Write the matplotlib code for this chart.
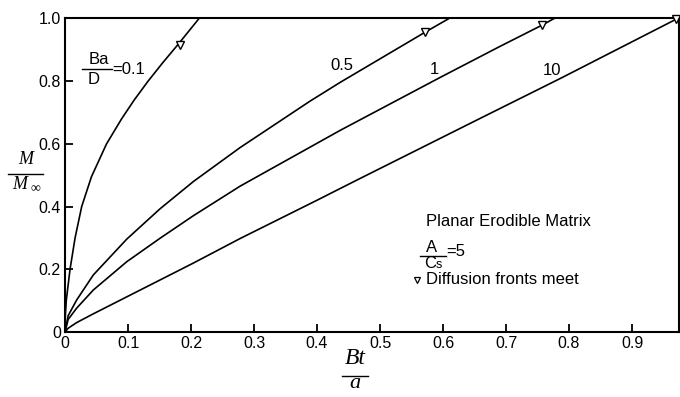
import matplotlib
matplotlib.use("Agg")
import matplotlib.pyplot as plt
from matplotlib.lines import Line2D

plt.rcParams['font.family'] = ['Liberation Sans', 'DejaVu Sans']

# ---- data ----
ratios = ["0.1", "0.5", "1", "10"]
x_01 = [0, 0.0005, 0.002, 0.008, 0.016, 0.0265, 0.042, 0.066, 0.09, 0.11, 0.132, 0.155, 0.18, 0.213]
y_01 = [0, 0.05, 0.10, 0.20, 0.30, 0.40, 0.495, 0.60, 0.68, 0.74, 0.80, 0.858, 0.918, 1.0]
x_05 = [0, 0.005, 0.0185, 0.045, 0.098, 0.151, 0.204, 0.278, 0.389, 0.437, 0.571, 0.61]
y_05 = [0, 0.052, 0.102, 0.182, 0.296, 0.393, 0.48, 0.588, 0.736, 0.796, 0.955, 1.0]
x_1 = [0, 0.005, 0.0185, 0.045, 0.098, 0.151, 0.204, 0.278, 0.437, 0.595, 0.69, 0.757, 0.777]
y_1 = [0, 0.04, 0.076, 0.134, 0.224, 0.299, 0.371, 0.465, 0.643, 0.811, 0.91, 0.978, 1.0]
x_10 = [0, 0.005, 0.0185, 0.045, 0.098, 0.151, 0.204, 0.278, 0.40, 0.463, 0.659, 0.786, 0.97]
y_10 = [0, 0.012, 0.03, 0.058, 0.112, 0.166, 0.22, 0.298, 0.42, 0.484, 0.681, 0.808, 0.997]
fronts_x = [0.182, 0.571, 0.757, 0.97]
fronts_y = [0.915, 0.955, 0.978, 0.997]
xticks = [0, 0.1, 0.2, 0.3, 0.4, 0.5, 0.6, 0.7, 0.8, 0.9]
xticklabels = ["0", "0.1", "0.2", "0.3", "0.4", "0.5", "0.6", "0.7", "0.8", "0.9"]
yticks = [0, 0.2, 0.4, 0.6, 0.8, 1.0]
yticklabels = ["0", "0.2", "0.4", "0.6", "0.8", "1.0"]

W, H = 680, 397
fig = plt.figure(figsize=(W / 100, H / 100), dpi=100)

def fx(px):
    return px / W

def fy(py):
    return 1 - py / H

ax = fig.add_axes([fx(65), fy(332), fx(679) - fx(65), fy(18.3) - fy(332)])

for xs, ys in [(x_01, y_01), (x_05, y_05), (x_1, y_1), (x_10, y_10)]:
    ax.plot(xs, ys, color='black', lw=1.2, solid_joinstyle='round')
ax.plot(fronts_x, fronts_y, linestyle='none', marker='v', ms=5.5,
        mfc='white', mec='black', mew=1.0, clip_on=False, zorder=5)

ax.set_xlim(0, 0.9746)
ax.set_ylim(0, 1.0)
ax.set_xticks(xticks)
ax.set_xticklabels(xticklabels)
ax.set_yticks(yticks)
ax.set_yticklabels(yticklabels)
ax.tick_params(direction='in', length=6, width=1.3, labelsize=11.5, pad=3)
for s in ax.spines.values():
    s.set_linewidth(1.5)

# ---- curve labels ----
fs = 12
def txt(px, py, s, **kw):
    fig.text(fx(px), fy(py), s, ha=kw.pop('ha', 'center'), va=kw.pop('va', 'center'),
             fontsize=kw.pop('fontsize', fs), **kw)

def hline(px0, px1, py, lw=1.0):
    fig.add_artist(Line2D([fx(px0), fx(px1)], [fy(py), fy(py)], color='black', lw=lw))

# Ba/D = 0.1
txt(98.5, 60, "Ba")
hline(82, 112, 68.5)
txt(93.5, 79, "D")
txt(112, 69, "=0.1", ha='left')
txt(342, 66, "0.5")
txt(434, 70, "1")
txt(552.5, 70.5, "10")

# legend block
txt(426, 222, "Planar Erodible Matrix", ha='left')
txt(432, 247.5, "A")
hline(420, 446, 255.5)
txt(436, 263, "C", ha='right')
txt(436, 265, "s", ha='left', fontsize=9)
txt(446, 252, "=5", ha='left')
fig.add_artist(Line2D([fx(417)], [fy(280)], marker='v', ms=5, mfc='white',
                      mec='black', mew=0.9, linestyle='none'))
txt(426, 279.5, "Diffusion fronts meet", ha='left')

# axis labels (serif italic fractions)
serif = ['Liberation Serif', 'DejaVu Serif']
fig.text(fx(26), fy(159), "M", family=serif, style='italic', fontsize=13,
         ha='center', va='center')
hline(8, 43, 173.5)
fig.text(fx(20), fy(185), "M", family=serif, style='italic', fontsize=13,
         ha='center', va='center')
fig.text(fx(35), fy(189), "\u221e", family=serif, fontsize=10,
         ha='center', va='center')

fig.text(fx(355), fy(358), "Bt", family=serif, style='italic', fontsize=17,
         ha='center', va='center')
hline(342, 368, 376)
fig.text(fx(355), fy(384), "a", family=serif, style='italic', fontsize=16,
         ha='center', va='center')

fig.savefig("out.png", dpi=100)
